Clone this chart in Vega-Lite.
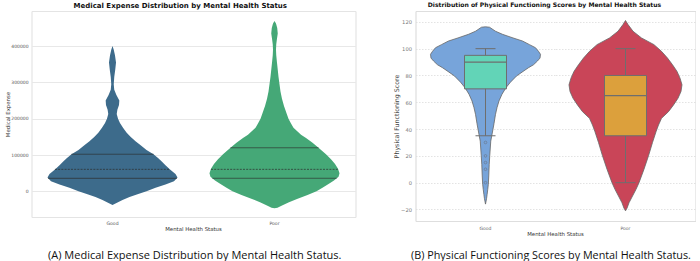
{
  "$schema": "https://vega.github.io/schema/vega-lite/v6.json",
  "background": "white",
  "padding": {"left": 4.5, "top": 1, "right": 0, "bottom": 0},
  "spacing": 38,
  "resolve": {"scale": {"color": "independent", "fill": "independent", "strokeDash": "independent"}},
  "config": {
    "font": "DejaVu Sans",
    "view": {"stroke": null},
    "title": {"font": "DejaVu Sans"}
  },
  "hconcat": [
    {
      "title": {"text": "(A) Medical Expense Distribution by Mental Health Status.", "orient": "bottom", "font": "Open Sans", "fontSize": 11, "fontWeight": "normal", "color": "#111111", "offset": 18.5, "anchor": "middle", "dx": 14.5},
      "vconcat": [
        {
          "title": {"text": "Medical Expense Distribution by Mental Health Status", "fontSize": 7, "fontWeight": "bold", "color": "#111111", "offset": 2.5, "anchor": "middle"},
          "data": {"values": [
            {"g": "Good", "k": "v", "v": 400000, "d": 0},
            {"g": "Good", "k": "v", "v": 390000, "d": 0.019},
            {"g": "Good", "k": "v", "v": 375000, "d": 0.038},
            {"g": "Good", "k": "v", "v": 355000, "d": 0.054},
            {"g": "Good", "k": "v", "v": 335000, "d": 0.042},
            {"g": "Good", "k": "v", "v": 315000, "d": 0.027},
            {"g": "Good", "k": "v", "v": 295000, "d": 0.019},
            {"g": "Good", "k": "v", "v": 280000, "d": 0.027},
            {"g": "Good", "k": "v", "v": 265000, "d": 0.06},
            {"g": "Good", "k": "v", "v": 250000, "d": 0.105},
            {"g": "Good", "k": "v", "v": 238000, "d": 0.1},
            {"g": "Good", "k": "v", "v": 225000, "d": 0.075},
            {"g": "Good", "k": "v", "v": 213000, "d": 0.065},
            {"g": "Good", "k": "v", "v": 200000, "d": 0.085},
            {"g": "Good", "k": "v", "v": 188000, "d": 0.115},
            {"g": "Good", "k": "v", "v": 175000, "d": 0.162},
            {"g": "Good", "k": "v", "v": 162000, "d": 0.215},
            {"g": "Good", "k": "v", "v": 150000, "d": 0.277},
            {"g": "Good", "k": "v", "v": 138000, "d": 0.354},
            {"g": "Good", "k": "v", "v": 126000, "d": 0.438},
            {"g": "Good", "k": "v", "v": 114000, "d": 0.523},
            {"g": "Good", "k": "v", "v": 102000, "d": 0.631},
            {"g": "Good", "k": "v", "v": 92000, "d": 0.7},
            {"g": "Good", "k": "v", "v": 83000, "d": 0.754},
            {"g": "Good", "k": "v", "v": 72000, "d": 0.815},
            {"g": "Good", "k": "v", "v": 60000, "d": 0.885},
            {"g": "Good", "k": "v", "v": 48000, "d": 0.969},
            {"g": "Good", "k": "v", "v": 38000, "d": 1},
            {"g": "Good", "k": "v", "v": 28000, "d": 0.946},
            {"g": "Good", "k": "v", "v": 19000, "d": 0.815},
            {"g": "Good", "k": "v", "v": 10000, "d": 0.662},
            {"g": "Good", "k": "v", "v": 0, "d": 0.523},
            {"g": "Good", "k": "v", "v": -8000, "d": 0.385},
            {"g": "Good", "k": "v", "v": -16000, "d": 0.262},
            {"g": "Good", "k": "v", "v": -24000, "d": 0.154},
            {"g": "Good", "k": "v", "v": -31000, "d": 0.077},
            {"g": "Good", "k": "v", "v": -36000, "d": 0.023},
            {"g": "Good", "k": "v", "v": -38000, "d": 0},
            {"g": "Poor", "k": "v", "v": 469000, "d": 0},
            {"g": "Poor", "k": "v", "v": 462000, "d": 0.023},
            {"g": "Poor", "k": "v", "v": 450000, "d": 0.042},
            {"g": "Poor", "k": "v", "v": 435000, "d": 0.05},
            {"g": "Poor", "k": "v", "v": 420000, "d": 0.038},
            {"g": "Poor", "k": "v", "v": 405000, "d": 0.027},
            {"g": "Poor", "k": "v", "v": 390000, "d": 0.023},
            {"g": "Poor", "k": "v", "v": 375000, "d": 0.027},
            {"g": "Poor", "k": "v", "v": 355000, "d": 0.038},
            {"g": "Poor", "k": "v", "v": 335000, "d": 0.05},
            {"g": "Poor", "k": "v", "v": 315000, "d": 0.062},
            {"g": "Poor", "k": "v", "v": 295000, "d": 0.077},
            {"g": "Poor", "k": "v", "v": 275000, "d": 0.092},
            {"g": "Poor", "k": "v", "v": 255000, "d": 0.115},
            {"g": "Poor", "k": "v", "v": 235000, "d": 0.146},
            {"g": "Poor", "k": "v", "v": 215000, "d": 0.185},
            {"g": "Poor", "k": "v", "v": 200000, "d": 0.215},
            {"g": "Poor", "k": "v", "v": 187000, "d": 0.254},
            {"g": "Poor", "k": "v", "v": 175000, "d": 0.292},
            {"g": "Poor", "k": "v", "v": 166000, "d": 0.346},
            {"g": "Poor", "k": "v", "v": 156000, "d": 0.408},
            {"g": "Poor", "k": "v", "v": 147000, "d": 0.485},
            {"g": "Poor", "k": "v", "v": 134000, "d": 0.585},
            {"g": "Poor", "k": "v", "v": 120000, "d": 0.677},
            {"g": "Poor", "k": "v", "v": 102000, "d": 0.792},
            {"g": "Poor", "k": "v", "v": 88000, "d": 0.869},
            {"g": "Poor", "k": "v", "v": 75000, "d": 0.931},
            {"g": "Poor", "k": "v", "v": 62000, "d": 0.977},
            {"g": "Poor", "k": "v", "v": 50000, "d": 1},
            {"g": "Poor", "k": "v", "v": 40000, "d": 0.985},
            {"g": "Poor", "k": "v", "v": 30000, "d": 0.915},
            {"g": "Poor", "k": "v", "v": 20000, "d": 0.831},
            {"g": "Poor", "k": "v", "v": 10000, "d": 0.738},
            {"g": "Poor", "k": "v", "v": 0, "d": 0.646},
            {"g": "Poor", "k": "v", "v": -10000, "d": 0.508},
            {"g": "Poor", "k": "v", "v": -21000, "d": 0.346},
            {"g": "Poor", "k": "v", "v": -30000, "d": 0.223},
            {"g": "Poor", "k": "v", "v": -40000, "d": 0.108},
            {"g": "Poor", "k": "v", "v": -45000, "d": 0.046},
            {"g": "Poor", "k": "v", "v": -47000, "d": 0},
            {"g": "Good", "k": "q", "s": "solid", "v": 102000, "d": 0.631},
            {"g": "Good", "k": "q", "s": "dash", "v": 60500, "d": 0.885},
            {"g": "Good", "k": "q", "s": "solid", "v": 35800, "d": 0.992},
            {"g": "Poor", "k": "q", "s": "solid", "v": 120000, "d": 0.677},
            {"g": "Poor", "k": "q", "s": "dash", "v": 60500, "d": 0.977},
            {"g": "Poor", "k": "q", "s": "solid", "v": 35800, "d": 0.955}
          ]},
          "transform": [
            {"stack": "d", "groupby": ["g", "k", "v"], "offset": "center", "as": ["x0", "x1"]}
          ],
          "facet": {
            "column": {
              "field": "g", "type": "nominal", "title": "Mental Health Status",
              "header": {"labelOrient": "bottom", "titleOrient": "bottom", "labelFont": "DejaVu Sans", "titleFont": "DejaVu Sans", "labelFontSize": 4.6, "labelColor": "#555555", "labelPadding": 3.5, "titleFontSize": 5.4, "titleFontWeight": "normal", "titleColor": "#333333", "titlePadding": -9.5}
            }
          },
          "spacing": 0,
          "spec": {
            "width": 162,
            "height": 206,
            "layer": [
              {
                "transform": [{"filter": "datum.k === 'v'"}],
                "mark": {"type": "area", "orient": "horizontal", "opacity": 1},
                "encoding": {
                  "y": {"field": "v", "type": "quantitative", "scale": {"domain": [-70800, 496700], "nice": false, "zero": false},
                    "axis": {"orient": "left", "values": [0, 100000, 200000, 300000, 400000], "format": "d", "labelFontSize": 4.5, "labelColor": "#555555", "labelPadding": 3.5, "ticks": false, "domain": true, "domainColor": "#e4e4e4", "domainWidth": 1.2, "grid": true, "gridColor": "#e8e8e8", "gridWidth": 1, "title": "Medical Expense", "titleFontSize": 5.4, "titleFontWeight": "normal", "titleColor": "#333333", "titleX": -24.5, "titleBaseline": "middle"}},
                  "x": {"field": "x0", "type": "quantitative", "stack": null, "scale": {"domain": [-0.123, 1.123], "nice": false, "zero": false},
                    "axis": {"orient": "bottom", "labels": false, "ticks": false, "domain": true, "domainColor": "#e4e4e4", "domainWidth": 1.2, "grid": false, "title": null}},
                  "x2": {"field": "x1"},
                  "color": {"field": "g", "type": "nominal", "scale": {"domain": ["Good", "Poor"], "range": ["#3d6b8b", "#45a877"]}, "legend": null}
                }
              },
              {
                "transform": [{"filter": "datum.k === 'q'"}],
                "mark": {"type": "rule", "color": "#2c2c2c", "strokeWidth": 0.7},
                "encoding": {
                  "y": {"field": "v", "type": "quantitative", "scale": {"domain": [-70800, 496700], "nice": false, "zero": false},
                    "axis": {"orient": "right", "labels": false, "ticks": false, "domain": true, "domainColor": "#e4e4e4", "domainWidth": 1.2, "grid": false, "title": null}},
                  "x": {"field": "x0", "type": "quantitative", "stack": null, "scale": {"domain": [-0.123, 1.123], "nice": false, "zero": false},
                    "axis": {"orient": "top", "labels": false, "ticks": false, "domain": true, "domainColor": "#e4e4e4", "domainWidth": 1.2, "grid": false, "title": null}},
                  "x2": {"field": "x1"},
                  "strokeDash": {"field": "s", "type": "nominal", "scale": {"domain": ["solid", "dash"], "range": [[1, 0], [2, 1.2]]}, "legend": null}
                }
              }
            ]
          }
        }
      ]
    },
    {
      "title": {"text": "(B) Physical Functioning Scores by Mental Health Status.", "orient": "bottom", "font": "Open Sans", "fontSize": 10.8, "fontWeight": "normal", "color": "#111111", "offset": 13.5, "anchor": "middle", "dx": 6.5},
      "vconcat": [
        {
          "title": {"text": "Distribution of Physical Functioning Scores by Mental Health Status", "fontSize": 6.1, "fontWeight": "bold", "color": "#111111", "offset": 3, "anchor": "middle"},
          "data": {"values": [
            {"g": "Good", "k": "v", "v": 116.3, "d": 0},
            {"g": "Good", "k": "v", "v": 116, "d": 0.071},
            {"g": "Good", "k": "v", "v": 113, "d": 0.177},
            {"g": "Good", "k": "v", "v": 110.7, "d": 0.301},
            {"g": "Good", "k": "v", "v": 108, "d": 0.487},
            {"g": "Good", "k": "v", "v": 105.7, "d": 0.655},
            {"g": "Good", "k": "v", "v": 103, "d": 0.779},
            {"g": "Good", "k": "v", "v": 100.7, "d": 0.885},
            {"g": "Good", "k": "v", "v": 98, "d": 0.938},
            {"g": "Good", "k": "v", "v": 95.8, "d": 0.973},
            {"g": "Good", "k": "v", "v": 93, "d": 0.965},
            {"g": "Good", "k": "v", "v": 90.8, "d": 0.92},
            {"g": "Good", "k": "v", "v": 88, "d": 0.85},
            {"g": "Good", "k": "v", "v": 85.8, "d": 0.761},
            {"g": "Good", "k": "v", "v": 83, "d": 0.664},
            {"g": "Good", "k": "v", "v": 79.6, "d": 0.549},
            {"g": "Good", "k": "v", "v": 75, "d": 0.442},
            {"g": "Good", "k": "v", "v": 70.9, "d": 0.363},
            {"g": "Good", "k": "v", "v": 66, "d": 0.292},
            {"g": "Good", "k": "v", "v": 61, "d": 0.239},
            {"g": "Good", "k": "v", "v": 56, "d": 0.204},
            {"g": "Good", "k": "v", "v": 51, "d": 0.177},
            {"g": "Good", "k": "v", "v": 44, "d": 0.15},
            {"g": "Good", "k": "v", "v": 40, "d": 0.133},
            {"g": "Good", "k": "v", "v": 31, "d": 0.093},
            {"g": "Good", "k": "v", "v": 20, "d": 0.075},
            {"g": "Good", "k": "v", "v": 13.7, "d": 0.066},
            {"g": "Good", "k": "v", "v": 5, "d": 0.058},
            {"g": "Good", "k": "v", "v": -1.2, "d": 0.05},
            {"g": "Good", "k": "v", "v": -5, "d": 0.04},
            {"g": "Good", "k": "v", "v": -8.7, "d": 0.029},
            {"g": "Good", "k": "v", "v": -12, "d": 0.018},
            {"g": "Good", "k": "v", "v": -16, "d": 0},
            {"g": "Poor", "k": "v", "v": 121, "d": 0},
            {"g": "Poor", "k": "v", "v": 118, "d": 0.044},
            {"g": "Poor", "k": "v", "v": 113, "d": 0.133},
            {"g": "Poor", "k": "v", "v": 108, "d": 0.283},
            {"g": "Poor", "k": "v", "v": 103, "d": 0.504},
            {"g": "Poor", "k": "v", "v": 98, "d": 0.637},
            {"g": "Poor", "k": "v", "v": 93, "d": 0.743},
            {"g": "Poor", "k": "v", "v": 88, "d": 0.832},
            {"g": "Poor", "k": "v", "v": 83, "d": 0.912},
            {"g": "Poor", "k": "v", "v": 78, "d": 0.965},
            {"g": "Poor", "k": "v", "v": 73, "d": 1},
            {"g": "Poor", "k": "v", "v": 68, "d": 0.982},
            {"g": "Poor", "k": "v", "v": 63, "d": 0.929},
            {"g": "Poor", "k": "v", "v": 58, "d": 0.85},
            {"g": "Poor", "k": "v", "v": 53, "d": 0.761},
            {"g": "Poor", "k": "v", "v": 48, "d": 0.637},
            {"g": "Poor", "k": "v", "v": 43, "d": 0.584},
            {"g": "Poor", "k": "v", "v": 38, "d": 0.54},
            {"g": "Poor", "k": "v", "v": 30, "d": 0.478},
            {"g": "Poor", "k": "v", "v": 20, "d": 0.407},
            {"g": "Poor", "k": "v", "v": 10, "d": 0.327},
            {"g": "Poor", "k": "v", "v": 0, "d": 0.239},
            {"g": "Poor", "k": "v", "v": -5, "d": 0.186},
            {"g": "Poor", "k": "v", "v": -10, "d": 0.124},
            {"g": "Poor", "k": "v", "v": -15, "d": 0.062},
            {"g": "Poor", "k": "v", "v": -19, "d": 0.027},
            {"g": "Poor", "k": "v", "v": -21, "d": 0},
            {"g": "Good", "k": "box", "q1": 70, "med": 90, "q3": 95, "lo": 35, "hi": 100},
            {"g": "Poor", "k": "box", "q1": 35, "med": 65, "q3": 80, "lo": 0, "hi": 100},
            {"g": "Good", "k": "o", "v": 30},
            {"g": "Good", "k": "o", "v": 20},
            {"g": "Good", "k": "o", "v": 15},
            {"g": "Good", "k": "o", "v": 10},
            {"g": "Good", "k": "o", "v": 0}
          ]},
          "transform": [
            {"stack": "d", "groupby": ["g", "k", "v"], "offset": "center", "as": ["x0", "x1"]}
          ],
          "facet": {
            "column": {
              "field": "g", "type": "nominal", "title": "Mental Health Status",
              "header": {"labelOrient": "bottom", "titleOrient": "bottom", "labelFont": "DejaVu Sans", "titleFont": "DejaVu Sans", "labelFontSize": 4.5, "labelColor": "#666666", "labelPadding": 4.5, "titleFontSize": 5.4, "titleFontWeight": "normal", "titleColor": "#333333", "titlePadding": -8.5}
            }
          },
          "spacing": 0,
          "spec": {
            "width": 140,
            "height": 210,
            "layer": [
              {
                "transform": [{"filter": "datum.k === 'v'"}],
                "mark": {"type": "area", "orient": "horizontal", "opacity": 1},
                "encoding": {
                  "y": {"field": "v", "type": "quantitative", "scale": {"domain": [-28.6, 128.1], "nice": false, "zero": false},
                    "axis": {"orient": "left", "values": [-20, 0, 20, 40, 60, 80, 100, 120], "labelFontSize": 5.2, "labelColor": "#777777", "labelPadding": 4, "ticks": false, "domain": true, "domainColor": "#dedede", "domainWidth": 1.2, "grid": true, "gridColor": "#dcdcdc", "gridWidth": 0.8, "gridDash": [1.5, 1.5], "title": "Physical Functioning Score", "titleFontSize": 6.3, "titleFontWeight": "normal", "titleColor": "#444444", "titleX": -19, "titleBaseline": "middle"}},
                  "x": {"field": "x0", "type": "quantitative", "stack": null, "scale": {"domain": [-0.1195, 1.1195], "nice": false, "zero": false},
                    "axis": {"orient": "bottom", "labels": false, "ticks": false, "domain": true, "domainColor": "#dedede", "domainWidth": 1.2, "grid": false, "title": null}},
                  "x2": {"field": "x1"},
                  "color": {"field": "g", "type": "nominal", "scale": {"domain": ["Good", "Poor"], "range": ["#77a4da", "#c94558"]}, "legend": null}
                }
              },
              {
                "transform": [{"filter": "datum.k === 'v'"}],
                "mark": {"type": "area", "orient": "horizontal", "filled": false, "stroke": "#666666", "strokeWidth": 0.8},
                "encoding": {
                  "y": {"field": "v", "type": "quantitative", "scale": {"domain": [-28.6, 128.1], "nice": false, "zero": false}, "axis": null},
                  "x": {"field": "x0", "type": "quantitative", "stack": null, "scale": {"domain": [-0.1195, 1.1195], "nice": false, "zero": false},
                    "axis": {"orient": "top", "labels": false, "ticks": false, "domain": true, "domainColor": "#dedede", "domainWidth": 1.2, "grid": false, "title": null}},
                  "x2": {"field": "x1"}
                }
              },
              {
                "transform": [{"filter": "datum.k === 'box'"}],
                "mark": {"type": "rule", "color": "#6e6e6e", "strokeWidth": 1},
                "encoding": {
                  "y": {"field": "lo", "type": "quantitative", "scale": {"domain": [-28.6, 128.1], "nice": false, "zero": false},
                    "axis": {"orient": "right", "labels": false, "ticks": false, "domain": true, "domainColor": "#dedede", "domainWidth": 1.2, "grid": false, "title": null}},
                  "y2": {"field": "hi"}
                }
              },
              {
                "transform": [{"filter": "datum.k === 'box'"}],
                "mark": {"type": "bar", "size": 42, "stroke": "#6e6e6e", "strokeWidth": 1},
                "encoding": {
                  "y": {"field": "q1", "type": "quantitative", "scale": {"domain": [-28.6, 128.1], "nice": false, "zero": false}, "axis": null},
                  "y2": {"field": "q3"},
                  "fill": {"field": "g", "type": "nominal", "scale": {"domain": ["Good", "Poor"], "range": ["#62d4b7", "#dca03c"]}, "legend": null}
                }
              },
              {
                "transform": [{"filter": "datum.k === 'box'"}],
                "mark": {"type": "tick", "orient": "horizontal", "size": 42, "thickness": 1.2, "color": "#6e6e6e", "opacity": 1},
                "encoding": {
                  "y": {"field": "med", "type": "quantitative", "scale": {"domain": [-28.6, 128.1], "nice": false, "zero": false}, "axis": null}
                }
              },
              {
                "transform": [{"filter": "datum.k === 'box'"}],
                "mark": {"type": "tick", "orient": "horizontal", "size": 20, "thickness": 1, "color": "#6e6e6e", "opacity": 1},
                "encoding": {
                  "y": {"field": "lo", "type": "quantitative", "scale": {"domain": [-28.6, 128.1], "nice": false, "zero": false}, "axis": null}
                }
              },
              {
                "transform": [{"filter": "datum.k === 'box'"}],
                "mark": {"type": "tick", "orient": "horizontal", "size": 20, "thickness": 1, "color": "#6e6e6e", "opacity": 1},
                "encoding": {
                  "y": {"field": "hi", "type": "quantitative", "scale": {"domain": [-28.6, 128.1], "nice": false, "zero": false}, "axis": null}
                }
              },
              {
                "transform": [{"filter": "datum.k === 'o'"}],
                "mark": {"type": "point", "filled": true, "size": 7, "fill": "#77a4da", "stroke": "#6b7a90", "strokeWidth": 0.7, "opacity": 1},
                "encoding": {
                  "y": {"field": "v", "type": "quantitative", "scale": {"domain": [-28.6, 128.1], "nice": false, "zero": false}, "axis": null}
                }
              }
            ]
          }
        }
      ]
    }
  ]
}
